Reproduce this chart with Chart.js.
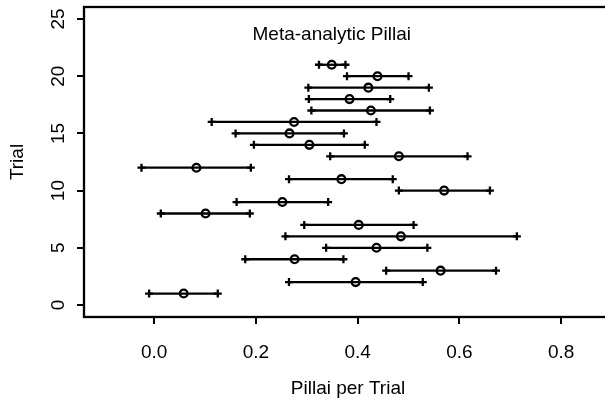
<!DOCTYPE html>
<html>
<head>
<meta charset="utf-8">
<script src="https://cdn.jsdelivr.net/npm/chart.js@4"></script>
<style>
  body { margin: 0; overflow: hidden; background: #fff; }
  #wrap { position: absolute; left: 0; top: 0; width: 620px; height: 405px; }
</style>
</head>
<body>
<div id="wrap"><canvas id="forest"></canvas></div>
<script>
// one row per trial, the last one is the pooled estimate
const trial = [1, 2, 3, 4, 5, 6, 7, 8, 9, 10, 11, 12, 13, 14, 15, 16, 17, 18, 19, 20, 21];
const est = [0.058, 0.396, 0.563, 0.276, 0.437, 0.485, 0.402, 0.101, 0.252, 0.570, 0.368,
             0.083, 0.481, 0.305, 0.266, 0.275, 0.426, 0.384, 0.421, 0.439, 0.349];
const lower = [-0.010, 0.265, 0.456, 0.179, 0.338, 0.258, 0.295, 0.013, 0.162, 0.481, 0.265,
               -0.025, 0.346, 0.196, 0.160, 0.113, 0.309, 0.304, 0.303, 0.379, 0.324];
const upper = [0.125, 0.528, 0.672, 0.372, 0.537, 0.713, 0.510, 0.188, 0.342, 0.660, 0.469,
               0.190, 0.616, 0.414, 0.373, 0.437, 0.542, 0.464, 0.540, 0.500, 0.376];
const xTicks = [0, 0.2, 0.4, 0.6, 0.8];
const yTicks = [0, 5, 10, 15, 20, 25];
const titleText = 'Meta-analytic Pillai';
const titlePos = { x: 0.349, y: 23.6 };

const font = '"Liberation Sans", Arial, sans-serif';
Chart.defaults.font.family = font;
Chart.defaults.font.size = 19;
Chart.defaults.color = '#000';

const intervals = trial.map((t, i) => ({
  type: 'line',
  data: [{ x: lower[i], y: t }, { x: upper[i], y: t }],
  borderColor: '#000',
  borderWidth: 2.3,
  pointStyle: 'cross',
  pointRadius: 4,
  pointBorderWidth: 2.3,
  pointBorderColor: '#000',
  showLine: true
}));

const points = {
  type: 'scatter',
  data: trial.map((t, i) => ({ x: est[i], y: t })),
  pointStyle: 'circle',
  pointRadius: 3.9,
  pointBorderWidth: 2.3,
  pointBorderColor: '#000',
  pointBackgroundColor: 'rgba(0,0,0,0)'
};

const extras = {
  id: 'extras',
  afterDraw(chart) {
    const { ctx, chartArea: a, scales: { x, y } } = chart;
    ctx.save();
    ctx.strokeStyle = '#000';
    ctx.lineWidth = 2.3;
    ctx.strokeRect(a.left, a.top, a.right - a.left, a.bottom - a.top);

    ctx.fillStyle = '#000';
    ctx.font = '19px ' + font;
    ctx.textAlign = 'center';
    ctx.textBaseline = 'middle';
    ctx.fillText(titleText, x.getPixelForValue(titlePos.x), y.getPixelForValue(titlePos.y));

    yTicks.forEach(v => {
      ctx.save();
      ctx.translate(58.5, y.getPixelForValue(v));
      ctx.rotate(-Math.PI / 2);
      ctx.fillText(String(v), 0, 0);
      ctx.restore();
    });
    ctx.restore();
  }
};

new Chart(document.getElementById('forest'), {
  type: 'scatter',
  data: { datasets: [points, ...intervals] },
  options: {
    responsive: true,
    maintainAspectRatio: false,
    animation: false,
    layout: { padding: { top: 7, right: 8, left: 0, bottom: 0 } },
    plugins: { legend: { display: false }, tooltip: { enabled: false } },
    scales: {
      x: {
        type: 'linear',
        min: -0.138,
        max: 0.9,
        afterBuildTicks: s => { s.ticks = xTicks.map(v => ({ value: v })); },
        afterFit: s => { s.height = 88; },
        ticks: { padding: 17, callback: v => v.toFixed(1) },
        grid: { drawOnChartArea: false, tickLength: 7, color: '#000', lineWidth: 2 },
        border: { display: false },
        title: { display: true, text: 'Pillai per Trial', padding: { bottom: 5 } }
      },
      y: {
        type: 'linear',
        min: -1.05,
        max: 26.05,
        afterBuildTicks: s => { s.ticks = yTicks.map(v => ({ value: v })); },
        afterFit: s => { s.width = 84; },
        ticks: { display: false },
        grid: { drawOnChartArea: false, tickLength: 7, color: '#000', lineWidth: 2 },
        border: { display: false },
        title: { display: true, text: 'Trial', padding: { top: 6 } }
      }
    }
  },
  plugins: [extras]
});
</script>
</body>
</html>
